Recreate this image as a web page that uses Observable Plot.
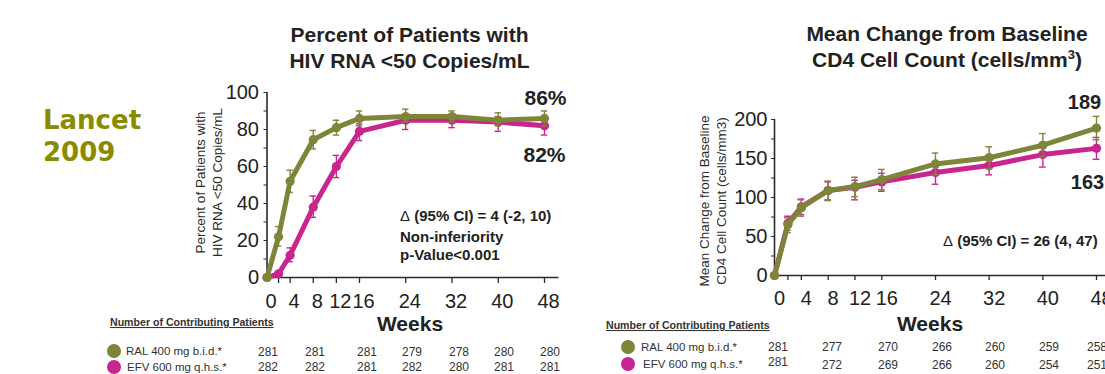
<!DOCTYPE html>
<html>
<head>
<meta charset="utf-8">
<script src="https://cdn.jsdelivr.net/npm/d3@7"></script>
<script src="https://cdn.jsdelivr.net/npm/@observablehq/plot@0.6"></script>
<style>
  html, body { margin: 0; padding: 0; background: #fff; }
  #slide { position: relative; width: 1105px; height: 374px; overflow: hidden;
           font-family: "Liberation Sans", Arial, sans-serif; color: #222; }
  #slide > svg { position: absolute; }
</style>
</head>
<body>
<div id="slide"></div>
<script>
// ---- data ---------------------------------------------------------------
const weeks = [0, 2, 4, 8, 12, 16, 24, 32, 40, 48];

// Percent of patients with HIV RNA <50 copies/mL (mean, 95% CI bounds)
const rnaRAL   = [0, 22, 52, 74.5, 81, 86, 87, 87, 85, 86];
const rnaRALlo = [null, 17, 46, 69.5, 77, 82, 84, 84, 82, 82];
const rnaRALhi = [null, 27.5, 58, 79.5, 85, 90, 91, 90, 89, 90];
const rnaEFV   = [0, 2, 12, 38, 60, 79, 85, 85, 84, 82];
const rnaEFVlo = [null, null, 8.5, 32.5, 54, 74, 80, 81, 79, 77];
const rnaEFVhi = [null, null, 16, 44, 66, 83, 88, 88, 87, 85];

// Mean change from baseline CD4 count, cells/mm3
const cd4RAL   = [0, 65, 87, 109, 114, 123, 143, 151, 167, 189];
const cd4RALlo = [null, 55, 76, 96, 101, 110, 129, 137, 152, 174];
const cd4RALhi = [null, 74, 97, 121, 126, 136, 157, 165, 182, 204];
const cd4EFV   = [0, 67, 88, 109, 113, 120, 132, 141, 155, 163];
const cd4EFVlo = [null, 58, 78, 97, 97, 108, 117, 129, 139, 149];
const cd4EFVhi = [null, 76, 98, 120, 122, 131, 146, 154, 170, 177];

// Number of contributing patients
const rnaRALn = [281, 281, 281, 279, 278, 280, 280];
const rnaEFVn = [282, 282, 281, 282, 280, 281, 281];
const cd4RALn = [281, 277, 270, 266, 260, 259, 258];
const cd4EFVn = [281, 272, 269, 266, 260, 254, 251];

const armRAL = "RAL 400 mg b.i.d.*";
const armEFV = "EFV 600 mg q.h.s.*";

const tickWeeks  = [2, 4, 8, 12, 16, 24, 32, 40, 48];
const labelWeeks = [0, 4, 8, 12, 16, 24, 32, 40, 48];

// ---- styles -------------------------------------------------------------
const RAL_COLOR = "#7e8438";
const EFV_COLOR = "#c9258f";
const AXIS = "#2a2a2a";
const INK = "#222";
const FONT = "'Liberation Sans', Arial, sans-serif";

const slide = document.getElementById("slide");

function series(vals, lo, hi) {
  return weeks.map((w, i) => ({ week: w, value: vals[i], lo: lo[i], hi: hi[i] }));
}

function armMarks(data, color, capHalf) {
  const bars = data.filter(d => d.lo != null);
  return [
    Plot.line(data, { x: "week", y: "value", stroke: color, strokeWidth: 5,
                      strokeLinejoin: "round", strokeLinecap: "round" }),
    Plot.ruleX(bars, { x: "week", y1: "lo", y2: "hi", stroke: color, strokeWidth: 1.4 }),
    Plot.ruleY(bars, { y: "hi", x1: d => d.week - capHalf, x2: d => d.week + capHalf,
                       stroke: color, strokeWidth: 1.4 }),
    Plot.ruleY(bars, { y: "lo", x1: d => d.week - capHalf, x2: d => d.week + capHalf,
                       stroke: color, strokeWidth: 1.4 }),
    Plot.dot(data, { x: "week", y: "value", r: 4.6, fill: color })
  ];
}

function chart(cfg) {
  const ral = series(...cfg.ral);
  const efv = series(...cfg.efv);
  const lastR = ral[ral.length - 1];
  const lastE = efv[efv.length - 1];
  const svg = Plot.plot({
    width: cfg.width, height: cfg.height,
    marginLeft: cfg.ml, marginRight: cfg.mr, marginTop: cfg.mt, marginBottom: cfg.mb,
    style: { background: "transparent", fontFamily: FONT, color: INK, overflow: "hidden" },
    x: { domain: [0, 48], label: null },
    y: { domain: [0, cfg.ymax], label: null },
    marks: [
      // minor y ticks and labelled y ticks
      Plot.axisY({ ticks: cfg.yMinor, tickSize: 3, stroke: AXIS, fill: "none", label: null }),
      Plot.axisY({ ticks: cfg.yMajor, tickSize: 0, tickPadding: cfg.ypad, fontSize: 20,
                   fill: INK, label: null }),
      // x ticks and week labels
      Plot.axisX({ ticks: tickWeeks, tickSize: cfg.xtick, stroke: AXIS, strokeWidth: 1.3,
                   fill: "none", label: null }),
      Plot.axisX({ ticks: labelWeeks, tickSize: 0, tickPadding: cfg.xpad, fontSize: 20,
                   dx: cfg.xdx, fill: INK, label: null }),
      // axis lines
      Plot.ruleX([0], { y1: 0, y2: cfg.ymax, stroke: AXIS, strokeWidth: 1.6 }),
      Plot.ruleY([0], { x1: 0, x2: cfg.xEnd, stroke: AXIS, strokeWidth: 1.4 }),
      ...armMarks(efv, EFV_COLOR, cfg.cap),
      ...armMarks(ral, RAL_COLOR, cfg.cap),
      // end-of-study values
      Plot.text([lastR], { x: "week", y: "value", text: d => cfg.fmt(d.value),
                           dx: cfg.lblR[0], dy: cfg.lblR[1], fontSize: cfg.lblSize,
                           fontWeight: "bold", fill: INK }),
      Plot.text([lastE], { x: "week", y: "value", text: d => cfg.fmt(d.value),
                           dx: cfg.lblE[0], dy: cfg.lblE[1], fontSize: cfg.lblSize,
                           fontWeight: "bold", fill: INK })
    ]
  });
  svg.style.left = cfg.left + "px";
  svg.style.top = cfg.top + "px";
  svg.style.zIndex = 2;
  return svg;
}

// ---- text layer (titles, notes, patient table) -----------------------------
const overlay = d3.select(slide).append("svg")
  .attr("width", 1105).attr("height", 374)
  .style("left", "0px").style("top", "0px").style("z-index", 1)
  .attr("font-family", FONT);

overlay.append("g").attr("font-family", "'DejaVu Sans', Verdana, sans-serif")
  .attr("font-weight", "bold").attr("font-size", 26).attr("fill", "#8a8c00")
  .selectAll("text").data(["Lancet", "2009"]).join("text")
  .attr("x", 43).attr("y", (d, i) => 129 + i * 32).text(d => d);

function titleBlock(cx, y0, lines) {
  const g = overlay.append("g").attr("font-weight", "bold").attr("font-size", 21)
    .attr("fill", INK).attr("text-anchor", "middle");
  lines.forEach((ln, i) => {
    const t = g.append("text").attr("x", cx).attr("y", y0 + i * 26);
    if (Array.isArray(ln)) {
      t.append("tspan").text(ln[0]);
      t.append("tspan").attr("font-size", 13).attr("dy", -8).text(ln[1]);
      t.append("tspan").attr("dy", 8).text(ln[2]);
    } else t.text(ln);
  });
}
titleBlock(409.5, 41.5, ["Percent of Patients with", "HIV RNA <50 Copies/mL"]);
titleBlock(947, 40.5, ["Mean Change from Baseline", ["CD4 Cell Count (cells/mm", "3", ")"]]);

function yTitle(x0, cy, lines) {
  const g = overlay.append("g").attr("font-size", 13.5).attr("fill", "#2b2b2b")
    .attr("text-anchor", "middle");
  lines.forEach((ln, i) => {
    const x = x0 + i * 17;
    g.append("text").attr("transform", `translate(${x},${cy}) rotate(-90)`).text(ln);
  });
}
yTitle(205, 182.5, ["Percent of Patients with", "HIV RNA <50 Copies/mL"]);
yTitle(709, 201, ["Mean Change from Baseline", "CD4 Cell Count (cells/mm3)"]);

overlay.append("g").attr("font-weight", "bold").attr("font-size", 21).attr("fill", INK)
  .attr("text-anchor", "middle")
  .selectAll("text").data([410, 930]).join("text")
  .attr("x", d => d).attr("y", 330.5).text("Weeks");

function note(x, y, lines) {
  const g = overlay.append("g").attr("font-weight", "bold").attr("font-size", 15).attr("fill", INK);
  lines.forEach((ln, i) => {
    const t = g.append("text").attr("x", x).attr("y", y + i * (i === 1 ? 21 : 19.5));
    if (ln.startsWith("\u0394")) {
      t.append("tspan").attr("font-weight", "normal").text("\u0394");
      t.append("tspan").text(ln.slice(1));
    } else t.text(ln);
  });
}
note(400, 221, ["\u0394 (95% CI) = 4 (-2, 10)", "Non-inferiority", "p-Value<0.001"]);
note(943, 246, ["\u0394 (95% CI) = 26 (4, 47)"]);

function patientTable(cfg) {
  const g = overlay.append("g").attr("fill", "#333");
  g.append("text").attr("x", cfg.hx).attr("y", cfg.hy).attr("font-weight", "bold")
    .attr("font-size", 10.6).attr("text-decoration", "underline")
    .text("Number of Contributing Patients");
  const rows = [
    { name: armRAL, color: RAL_COLOR, n: cfg.ral },
    { name: armEFV, color: EFV_COLOR, n: cfg.efv }
  ];
  rows.forEach((r, i) => {
    g.append("circle").attr("cx", cfg.cx).attr("cy", cfg.rowY[i] - 4).attr("r", 7)
      .attr("fill", r.color);
    g.append("text").attr("x", cfg.tx[i]).attr("y", cfg.rowY[i]).attr("font-size", 11.5)
      .text(r.name);
    g.append("g").attr("font-size", 12).attr("text-anchor", "middle")
      .selectAll("text").data(r.n).join("text")
      .attr("x", (d, j) => cfg.cols[j])
      .attr("y", (d, j) => cfg.numY[i] + (cfg.firstShift && i === 1 && j === 0 ? -3 : 0))
      .text(d => d);
  });
}
patientTable({ hx: 110, hy: 326, cx: 114, tx: [126, 127], rowY: [355, 371],
               numY: [356, 371], cols: [268, 315, 367, 412, 459, 504, 550],
               ral: rnaRALn, efv: rnaEFVn });
patientTable({ hx: 606, hy: 329, cx: 628, tx: [641, 643], rowY: [351, 368],
               numY: [351, 369], cols: [778, 832, 888, 942, 995, 1049, 1097],
               ral: cd4RALn, efv: cd4EFVn, firstShift: true });

// ---- charts -------------------------------------------------------------
slide.appendChild(chart({
  left: 150, top: 80, width: 430, height: 260, ml: 116.5, mr: 36, mt: 12, mb: 63,
  ymax: 100, yMinor: d3.range(0, 101, 10), yMajor: [0, 20, 40, 60, 80, 100], ypad: 8,
  xtick: 6, xpad: 16, xdx: 4, xEnd: 50.5, cap: 0.55,
  ral: [rnaRAL, rnaRALlo, rnaRALhi], efv: [rnaEFV, rnaEFVlo, rnaEFVhi],
  fmt: v => `${v}%`, lblSize: 21, lblR: [1, -20], lblE: [0, 29]
}));

slide.appendChild(chart({
  left: 680, top: 90, width: 425, height: 240, ml: 94, mr: 9, mt: 29, mb: 55,
  ymax: 200, yMinor: d3.range(0, 201, 25), yMajor: [0, 50, 100, 150, 200], ypad: 7,
  xtick: 5, xpad: 15, xdx: 5, xEnd: 49.5, cap: 0.5,
  ral: [cd4RAL, cd4RALlo, cd4RALhi], efv: [cd4EFV, cd4EFVlo, cd4EFVhi],
  fmt: v => `${v}`, lblSize: 20, lblR: [-12, -25], lblE: [-9, 34]
}));
</script>
</body>
</html>
